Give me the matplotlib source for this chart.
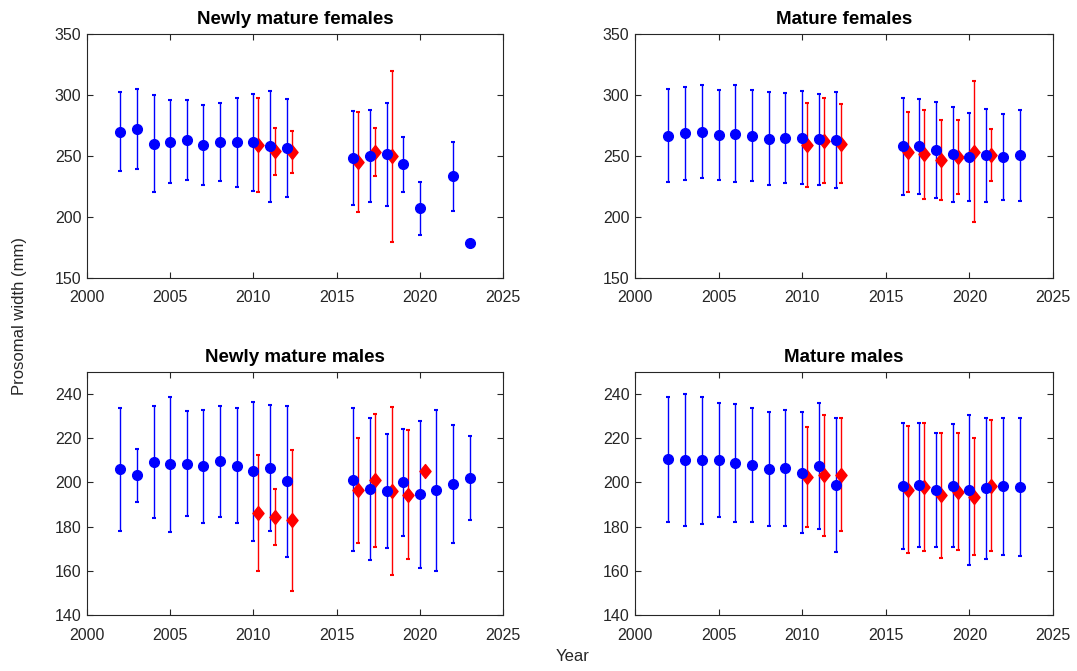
import numpy as np
import matplotlib
matplotlib.use("Agg")
import matplotlib.pyplot as plt
from matplotlib.path import Path

plt.rcParams['font.family'] = ['Liberation Sans', 'DejaVu Sans']

years_a = [2002, 2003, 2004, 2005, 2006, 2007, 2008, 2009, 2010, 2011, 2012,
           2016, 2017, 2018, 2019, 2020, 2022, 2023]
years_b = [2002, 2003, 2004, 2005, 2006, 2007, 2008, 2009, 2010, 2011, 2012,
           2016, 2017, 2018, 2019, 2020, 2021, 2022, 2023]

# newly mature females
nmf_mean = [270.0, 272.1, 260.1, 261.5, 263.1, 259.0, 261.7, 261.2, 261.2, 257.9, 256.3,
            248.6, 250.0, 251.6, 243.2, 207.1, 233.3, 178.4]
nmf_err = [32.6, 32.7, 39.9, 34.0, 33.0, 32.8, 31.9, 36.4, 39.8, 45.5, 40.1,
           38.6, 38.0, 42.2, 22.4, 21.8, 28.3, 0]
nmf_red_years = [2010, 2011, 2012, 2016, 2017, 2018]
nmf_red_mean = [259.3, 253.8, 253.3, 245.1, 253.3, 249.7]
nmf_red_err = [38.4, 19.0, 17.0, 41.3, 19.6, 70.0]

# mature females
mf_mean = [266.7, 268.6, 270.0, 267.0, 268.3, 266.7, 264.2, 264.8, 264.8, 263.9, 263.1,
           257.9, 257.9, 254.9, 251.4, 249.2, 250.5, 249.2, 250.5]
mf_err = [38.0, 38.3, 37.9, 37.0, 39.8, 37.3, 38.3, 36.7, 38.1, 37.3, 39.6,
          39.6, 39.2, 39.6, 38.7, 36.0, 37.9, 35.3, 37.2]
mf_red_years = [2010, 2011, 2012, 2016, 2017, 2018, 2019, 2020, 2021]
mf_red_mean = [258.7, 262.6, 260.1, 253.3, 251.6, 246.7, 249.2, 253.6, 250.8]
mf_red_err = [34.4, 34.9, 32.3, 33.1, 36.5, 32.7, 30.2, 58.0, 21.3]

# newly mature males
nmm_mean = [205.9, 203.2, 209.2, 208.3, 208.5, 207.4, 209.5, 207.6, 205.0, 206.5, 200.5,
            201.2, 197.0, 196.1, 200.0, 194.7, 196.5, 199.4, 202.0]
nmm_err = [28.0, 12.1, 25.5, 30.6, 23.8, 25.6, 25.3, 26.1, 31.3, 28.5, 34.1,
           32.3, 32.2, 25.9, 24.2, 33.3, 36.4, 26.8, 19.0]
nmm_red_years = [2010, 2011, 2012, 2016, 2017, 2018, 2019, 2020]
nmm_red_mean = [186.2, 184.4, 182.9, 196.4, 200.9, 196.1, 194.5, 205.0]
nmm_red_err = [26.3, 12.8, 32.0, 23.7, 30.3, 38.0, 29.3, 0]

# mature males
mm_mean = [210.6, 210.0, 210.0, 210.0, 208.8, 208.0, 206.1, 206.5, 204.5, 207.4, 198.9,
           198.3, 198.9, 196.5, 198.6, 196.7, 197.3, 198.2, 198.0]
mm_err = [28.3, 29.9, 28.8, 25.8, 26.7, 25.8, 26.0, 26.3, 27.6, 28.6, 30.5,
          28.5, 28.1, 25.7, 27.9, 34.0, 32.0, 30.9, 31.1]
mm_red_years = [2010, 2011, 2012, 2016, 2017, 2018, 2019, 2020, 2021]
mm_red_mean = [202.4, 203.2, 203.6, 196.7, 197.9, 194.2, 195.9, 193.6, 198.6]
mm_red_err = [22.6, 27.3, 25.6, 28.7, 28.8, 28.2, 26.3, 26.4, 29.6]

panels = [
    ("Newly mature females", years_a, nmf_mean, nmf_err, nmf_red_years, nmf_red_mean, nmf_red_err, (150, 350), [150, 200, 250, 300, 350]),
    ("Mature females", years_b, mf_mean, mf_err, mf_red_years, mf_red_mean, mf_red_err, (150, 350), [150, 200, 250, 300, 350]),
    ("Newly mature males", years_b, nmm_mean, nmm_err, nmm_red_years, nmm_red_mean, nmm_red_err, (140, 250), [140, 160, 180, 200, 220, 240]),
    ("Mature males", years_b, mm_mean, mm_err, mm_red_years, mm_red_mean, mm_red_err, (140, 250), [140, 160, 180, 200, 220, 240]),
]

# slightly tall diamond like matlab's
diamond = Path([(0, 1), (0.8, 0), (0, -1), (-0.8, 0), (0, 1)],
               [Path.MOVETO, Path.LINETO, Path.LINETO, Path.LINETO, Path.CLOSEPOLY])

W, H = 1077, 671
fig = plt.figure(figsize=(W / 100, H / 100), dpi=100)
boxes = [(87, 34, 416, 244), (635, 34, 418, 244), (87, 372, 416, 243), (635, 372, 418, 243)]
axcol = '#262626'

for (title, yrs, mean, err, ryrs, rmean, rerr, ylim, yt), (l, t, w, h) in zip(panels, boxes):
    ax = fig.add_axes([l / W, 1 - (t + h) / H, w / W, h / H])
    ax.errorbar(yrs, mean, yerr=err, fmt='o', color='blue', ms=7, elinewidth=1,
                capsize=1.2, capthick=1.5)
    ax.errorbar(np.array(ryrs) + 0.3, rmean, yerr=rerr, fmt='none', ecolor='red',
                elinewidth=1, capsize=1.2, capthick=1.5)
    ax.plot(np.array(ryrs) + 0.3, rmean, linestyle='none', marker=diamond, ms=10,
            color='red')
    ax.set_xlim(2000, 2025)
    ax.set_ylim(*ylim)
    ax.set_xticks([2000, 2005, 2010, 2015, 2020, 2025])
    ax.set_yticks(yt)
    ax.set_title(title, fontsize=13.5, fontweight='bold', pad=7)
    ax.tick_params(direction='in', top=True, right=True, length=4, width=0.8,
                   labelsize=11.5, colors=axcol)
    ax.tick_params(axis='x', pad=9)
    ax.tick_params(axis='y', pad=4)
    for s in ax.spines.values():
        s.set_color(axcol)
        s.set_linewidth(0.8)

fig.text(0.018, 0.529, 'Prosomal width (mm)', rotation=90, va='center', ha='center',
         fontsize=12, color=axcol)
fig.text(0.532, 0.022, 'Year', va='center', ha='center', fontsize=12, color=axcol)

fig.savefig('out.png', dpi=100)
